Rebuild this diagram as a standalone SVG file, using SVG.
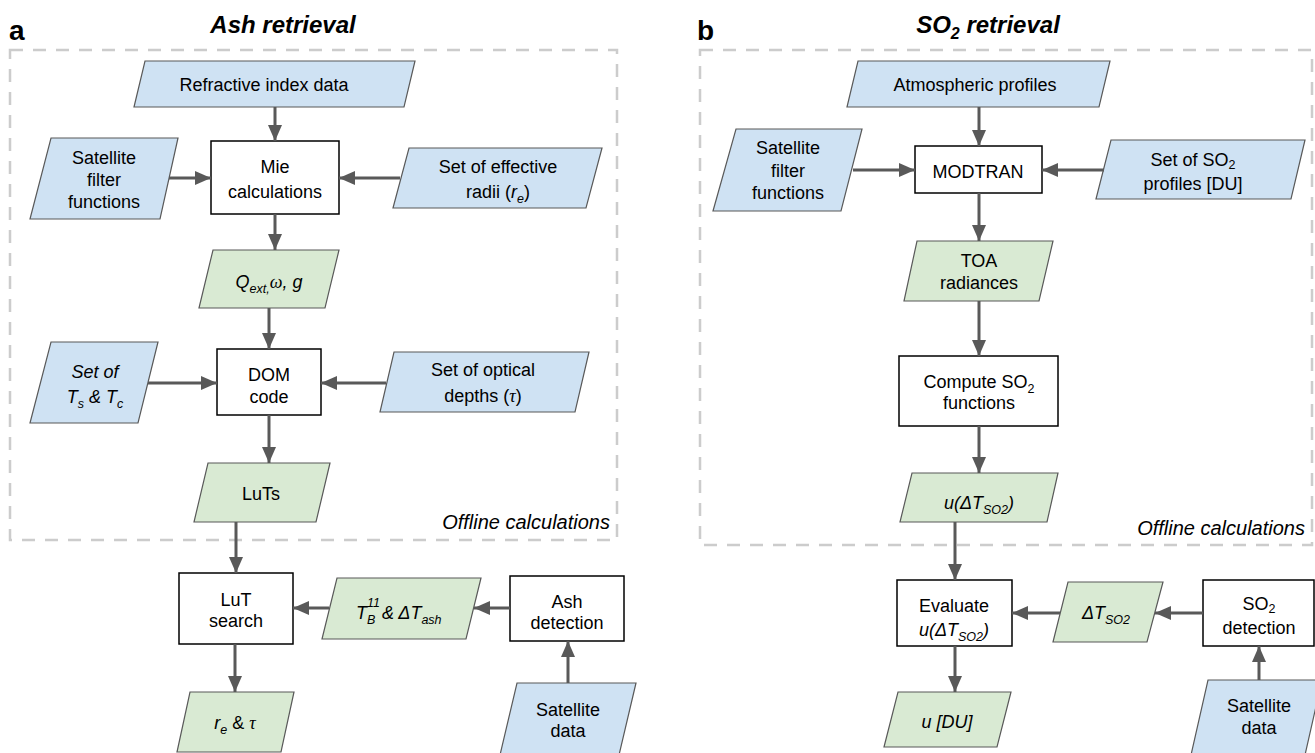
<svg xmlns="http://www.w3.org/2000/svg" width="1315" height="753" viewBox="0 0 1315 753">
<defs>
<marker id="ah" viewBox="0 0 16 14" refX="16" refY="7" markerWidth="16" markerHeight="14" markerUnits="userSpaceOnUse" orient="auto">
<path d="M0,0 L16,7 L0,14 z" fill="#595959"/>
</marker>
<style>
text{font-family:"Liberation Sans",Arial,sans-serif;font-size:18px;fill:#000;text-anchor:middle}
.in{fill:#cfe2f3;stroke:#595959;stroke-width:1.2}
.out{fill:#d9ead3;stroke:#595959;stroke-width:1.2}
.box{fill:#fff;stroke:#000;stroke-width:1.5}
.frame{fill:none;stroke:#cccccc;stroke-width:2.5;stroke-dasharray:13 10}
.conn line{stroke:#595959;stroke-width:3;marker-end:url(#ah)}
.it{font-style:italic}
.sub{font-size:12.5px}
.gr{font-family:"Liberation Serif","Times New Roman",serif;font-style:italic}
.title{font-size:24px;font-weight:bold;font-style:italic}
.letter{font-size:28px;font-weight:bold;text-anchor:start}
.off{font-size:20px;font-style:italic;text-anchor:end}
</style>
</defs>
<rect width="1315" height="753" fill="#fff"/>

<!-- Panel a -->
<g id="panel-a-labels">
<text class="letter" x="9" y="40">a</text>
<text class="title" x="283" y="33">Ash retrieval</text>
<rect class="frame" x="10" y="50" width="607" height="490"/>
<text class="off" x="610" y="529">Offline calculations</text>
</g>

<g id="a-refractive"><polygon class="in" points="145,61 415,61 404,107 134,107"/><text x="264" y="91">Refractive index data</text></g>
<g id="a-satfilter"><polygon class="in" points="51,138 178,138 160,219 30,219"/><text x="104" y="164">Satellite</text><text x="104" y="186">filter</text><text x="104" y="208">functions</text></g>
<g id="a-mie"><rect class="box" x="211" y="141" width="128" height="73"/><text x="275" y="173">Mie</text><text x="275" y="198">calculations</text></g>
<g id="a-radii"><polygon class="in" points="409,148 602,148 586,208 393,208"/><text x="498" y="173">Set of effective</text><text x="498" y="198">radii (<tspan class="it">r</tspan><tspan class="sub it" dy="5">e</tspan><tspan dy="-5">)</tspan></text></g>
<g id="a-qext"><polygon class="out" points="213,250 339,250 325,308 199,308"/><text x="269" y="288"><tspan class="it">Q</tspan><tspan class="sub it" dy="5">ext,</tspan><tspan class="gr" dy="-5">ω</tspan><tspan class="it">, g</tspan></text></g>
<g id="a-tstc"><polygon class="in" points="51,342 158,342 138,423 30,423"/><text class="it" x="95" y="378">Set of</text><text class="it" x="95" y="403">T<tspan class="sub" dy="5">s</tspan><tspan dy="-5"> &amp; T</tspan><tspan class="sub" dy="5">c</tspan></text></g>
<g id="a-dom"><rect class="box" x="217" y="349" width="104" height="66"/><text x="269" y="381">DOM</text><text x="269" y="403">code</text></g>
<g id="a-optical"><polygon class="in" points="394,352 589,352 575,412 380,412"/><text x="483" y="376">Set of optical</text><text x="483" y="402">depths (<tspan class="gr">τ</tspan>)</text></g>
<g id="a-luts"><polygon class="out" points="208,463 330,463 316,522 194,522"/><text x="261" y="500">LuTs</text></g>
<g id="a-lutsearch"><rect class="box" x="179" y="573" width="114" height="71"/><text x="236" y="606">LuT</text><text x="236" y="627">search</text></g>
<g id="a-tb"><polygon class="out" points="337,578 481,578 466,639 322,639"/>
<text class="it" x="356" y="619" style="text-anchor:start">T</text>
<text class="it sub" x="367" y="607" style="text-anchor:start">11</text>
<text class="it sub" x="367" y="624" style="text-anchor:start">B</text>
<text class="it" x="382" y="619" style="text-anchor:start">&amp; ΔT<tspan class="sub" dy="5">ash</tspan></text></g>
<g id="a-ashdet"><rect class="box" x="510" y="576" width="114" height="65"/><text x="567" y="608">Ash</text><text x="567" y="629">detection</text></g>
<g id="a-satdata"><polygon class="in" points="517,683 636,683 619,755 500,755"/><text x="568" y="716">Satellite</text><text x="568" y="737">data</text></g>
<g id="a-retau"><polygon class="out" points="190,692 294,692 281,752 177,752"/><text x="235" y="729"><tspan class="it">r</tspan><tspan class="sub it" dy="5">e</tspan><tspan dy="-5"> &amp; </tspan><tspan class="gr">τ</tspan></text></g>

<!-- Panel b -->
<g id="panel-b-labels">
<text class="letter" x="697" y="40">b</text>
<text class="title" x="988" y="33">SO<tspan dy="6" style="font-size:16px">2</tspan><tspan dy="-6"> retrieval</tspan></text>
<rect class="frame" x="700" y="50" width="612" height="495"/>
<text class="off" x="1305" y="535">Offline calculations</text>
</g>

<g id="b-atm"><polygon class="in" points="858,61 1110,61 1099,107 847,107"/><text x="975" y="91">Atmospheric profiles</text></g>
<g id="b-satfilter"><polygon class="in" points="736,129 862,129 841,211 713,211"/><text x="788" y="154">Satellite</text><text x="788" y="177">filter</text><text x="788" y="199">functions</text></g>
<g id="b-modtran"><rect class="box" x="915" y="146" width="127" height="47"/><text x="978" y="178">MODTRAN</text></g>
<g id="b-so2prof"><polygon class="in" points="1111,140 1305,140 1291,199 1096,199"/><text x="1193" y="166">Set of SO<tspan class="sub" dy="3">2</tspan></text><text x="1193" y="190">profiles [DU]</text></g>
<g id="b-toa"><polygon class="out" points="917,241 1053,241 1039,301 904,301"/><text x="979" y="267">TOA</text><text x="979" y="289">radiances</text></g>
<g id="b-compute"><rect class="box" x="899" y="356" width="159" height="70"/><text x="979" y="388">Compute SO<tspan class="sub" dy="5">2</tspan></text><text x="979" y="409">functions</text></g>
<g id="b-udt"><polygon class="out" points="912,473 1058,473 1047,522 900,522"/><text class="it" x="979" y="509">u(ΔT<tspan class="sub" dy="5">SO2</tspan><tspan dy="-5">)</tspan></text></g>
<g id="b-evaluate"><rect class="box" x="897" y="580" width="115" height="66"/><text x="954" y="612">Evaluate</text><text class="it" x="954" y="636">u(ΔT<tspan class="sub" dy="5">SO2</tspan><tspan dy="-5">)</tspan></text></g>
<g id="b-dt"><polygon class="out" points="1068,582 1163,582 1147,642 1053,642"/><text class="it" x="1106" y="619">ΔT<tspan class="sub" dy="5">SO2</tspan></text></g>
<g id="b-so2det"><rect class="box" x="1203" y="580" width="111" height="66"/><text x="1259" y="610">SO<tspan class="sub" dy="3">2</tspan></text><text x="1259" y="634">detection</text></g>
<g id="b-satdata"><polygon class="in" points="1208,680 1322,680 1305,755 1191,755"/><text x="1259" y="712">Satellite</text><text x="1259" y="734">data</text></g>
<g id="b-udu"><polygon class="out" points="898,692 1011,692 997,747 884,747"/><text class="it" x="947" y="728">u [DU]</text></g>

<g id="connectors" class="conn">
<line x1="275" y1="107" x2="275" y2="141"/>
<line x1="169" y1="178" x2="211" y2="178"/>
<line x1="400" y1="178" x2="339" y2="178"/>
<line x1="275" y1="214" x2="275" y2="250"/>
<line x1="269" y1="308" x2="269" y2="349"/>
<line x1="148" y1="383" x2="217" y2="383"/>
<line x1="386" y1="383" x2="321" y2="383"/>
<line x1="269" y1="415" x2="269" y2="463"/>
<line x1="236" y1="522" x2="236" y2="573"/>
<line x1="329" y1="608" x2="293" y2="608"/>
<line x1="510" y1="608" x2="474" y2="608"/>
<line x1="568" y1="683" x2="568" y2="641"/>
<line x1="235" y1="644" x2="235" y2="692"/>
<line x1="979" y1="107" x2="979" y2="146"/>
<line x1="853" y1="170" x2="915" y2="170"/>
<line x1="1104" y1="170" x2="1042" y2="170"/>
<line x1="979" y1="193" x2="979" y2="241"/>
<line x1="979" y1="301" x2="979" y2="356"/>
<line x1="979" y1="426" x2="979" y2="473"/>
<line x1="955" y1="522" x2="955" y2="580"/>
<line x1="1060" y1="613" x2="1012" y2="613"/>
<line x1="1203" y1="613" x2="1155" y2="613"/>
<line x1="1259" y1="680" x2="1259" y2="646"/>
<line x1="955" y1="646" x2="955" y2="692"/>
</g>
</svg>
